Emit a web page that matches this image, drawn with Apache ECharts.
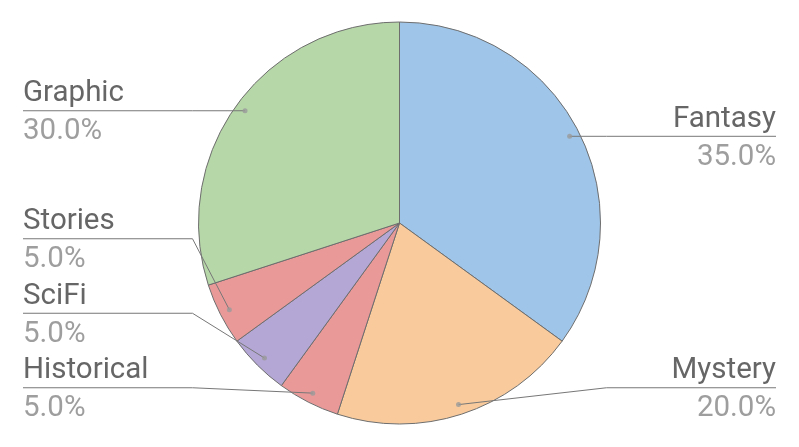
<!DOCTYPE html>
<html>
<head>
<meta charset="utf-8">
<script src="https://cdn.jsdelivr.net/npm/echarts@6/dist/echarts.min.js"></script>
<style>
  html, body { margin: 0; padding: 0; background: #fff; }
  #chart { width: 799px; height: 447px; }
</style>
</head>
<body>
<div id="chart"></div>
<script>
// ---- data ----
const categories = ['Fantasy', 'Mystery', 'Historical', 'SciFi', 'Stories', 'Graphic'];
const values = [35, 20, 5, 5, 5, 30];
const colors = ['#9fc5e8', '#f9cb9c', '#ea9999', '#b4a7d6', '#ea9999', '#b6d7a8'];

// ---- layout / style constants ----
const TOP = 22, BOTTOM = 23, EDGE = 23, LABEL_BOTTOM = 20;
const DOT_R = 0.95;           // label anchor radius as fraction of pie radius
const FONT = 'Roboto';

const el = document.getElementById('chart');
const chart = echarts.init(el, null, { renderer: 'canvas' });
const W = chart.getWidth(), H = chart.getHeight();
const R = (H - TOP - BOTTOM) / 2;
const CX = W / 2, CY = TOP + R;

const total = values.reduce((a, b) => a + b, 0);
const pieData = categories.map((c, i) => ({ name: c, value: values[i], itemStyle: { color: colors[i] } }));
const labelData = categories.map((c, i) => ({ name: c, value: values[i] }));
// mid angle of each slice in value units (for the anchor dots)
let acc = 0;
const dots = values.map(v => { const m = acc + v / 2; acc += v; return [DOT_R, m]; });

const option = {
  animation: false,
  backgroundColor: '#ffffff',
  polar: { center: [CX, CY], radius: R },
  angleAxis: { type: 'value', min: 0, max: total, startAngle: 90, clockwise: true, show: false },
  radiusAxis: { type: 'value', min: 0, max: 1, show: false },
  series: [
    {
      type: 'pie',
      top: TOP, bottom: BOTTOM, left: 0, right: 0,
      center: ['50%', '50%'],
      radius: '100%',
      startAngle: 90,
      clockwise: true,
      silent: true,
      label: { show: false },
      labelLine: { show: false },
      itemStyle: { borderColor: '#6e6e6e', borderWidth: 1 },
      emphasis: { disabled: true },
      data: pieData,
      z: 1
    },
    {
      type: 'pie',
      top: TOP, bottom: LABEL_BOTTOM, left: 0, right: 0,
      center: ['50%', CY - TOP],
      radius: DOT_R * R,
      startAngle: 90,
      clockwise: true,
      silent: true,
      avoidLabelOverlap: true,
      itemStyle: { color: 'rgba(0,0,0,0)', borderWidth: 0 },
      emphasis: { disabled: true },
      label: {
        show: true,
        alignTo: 'edge',
        edgeDistance: EDGE,
        minMargin: 6.5,
        padding: [4, 0, 0, 0],
        formatter: p => '{name|' + p.name + '}\n{pct|' + (p.value / total * 100).toFixed(1) + '%}',
        rich: {
          name: { fontFamily: FONT, fontSize: 29.5, color: '#666666', lineHeight: 38 },
          pct: { fontFamily: FONT, fontSize: 29.5, color: '#9e9e9e', lineHeight: 38 }
        }
      },
      labelLine: { show: true, length: 0, length2: 0, lineStyle: { color: '#777777', width: 1 } },
      labelLayout: function (params) {
        const pts = params.labelLinePoints;
        if (!pts) return {};
        const r = params.labelRect;
        const isLeft = r.x + r.width / 2 < CX;
        const y = pts[2][1];
        const p0 = pts[0];
        const p1 = [isLeft ? CX - R - 6 : CX + R + 6, y];
        const p2 = [isLeft ? r.x : r.x + r.width, y];
        return { labelLinePoints: [p0, p1, p2] };
      },
      data: labelData,
      z: 2
    },
    {
      type: 'scatter',
      coordinateSystem: 'polar',
      symbol: 'circle',
      symbolSize: 5,
      silent: true,
      itemStyle: { color: '#9a9a9a' },
      data: dots,
      z: 5
    }
  ]
};
chart.setOption(option);
</script>
</body>
</html>
